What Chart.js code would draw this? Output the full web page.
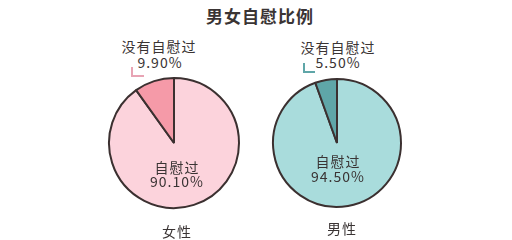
<!DOCTYPE html>
<html>
<head>
<meta charset="utf-8">
<script src="https://cdn.jsdelivr.net/npm/chart.js@4"></script>
<style>
    html, body { margin: 0; padding: 0; background: #fff; }
    #wrap { position: relative; width: 512px; height: 240px; overflow: hidden;
            font-family: "Noto Sans CJK SC", sans-serif; color: #3a3434; }
    .txt { position: absolute; transform: translate(-50%, -50%); white-space: nowrap; font-size: 14px; line-height: 1; letter-spacing: 1px; }
    .title { font-size: 17px; font-weight: bold; letter-spacing: 1px; }
    canvas { position: absolute; }
    .mark { position: absolute; border-left: 2px solid; border-bottom: 2px solid; }
</style>
</head>
<body>
<div id="wrap">
    <div class="txt title" style="left:260px; top:15px;">男女自慰比例</div>
    <canvas id="femaleChart" width="140" height="140" style="left:104px; top:73px;"></canvas>
    <canvas id="maleChart" width="140" height="140" style="left:267px; top:73px;"></canvas>
</div>
<script>
/* ========================================
   Data
   ======================================== */
const groups = ['女性', '男性'];
const sliceLabels = ['自慰过', '没有自慰过'];
const femaleValues = [90.1, 9.9];
const maleValues = [94.5, 5.5];

/* ========================================
   Layout / styles
   ======================================== */
const outline = '#3b3030';
const pies = [
    { id: 'femaleChart', values: femaleValues, colors: ['#fcd3dc', '#f59aa8'], mark: '#e8a4b4',
      pad: 4, top: [159, 46, 160, 62], inner: [177, 167, 181], bottom: [177, 231],
      markPos: [131, 67, 11, 8] },
    { id: 'maleChart', values: maleValues, colors: ['#a9dcdc', '#5fa6a8'], mark: '#5fa6a8',
      pad: 5, top: [338, 47, 338, 62], inner: [338, 161, 176], bottom: [342, 228],
      markPos: [303, 63, 10, 8] }
];

const wrap = document.getElementById('wrap');

function addText(text, x, y) {
    const d = document.createElement('div');
    d.className = 'txt';
    d.style.left = x + 'px';
    d.style.top = y + 'px';
    d.textContent = text;
    wrap.appendChild(d);
}

function pct(v) {
    return v.toFixed(2) + '%';
}

pies.forEach(function (p, i) {
    new Chart(document.getElementById(p.id).getContext('2d'), {
        type: 'pie',
        data: {
            labels: sliceLabels,
            datasets: [{
                data: p.values,
                backgroundColor: p.colors,
                borderColor: outline,
                borderWidth: 2
            }]
        },
        options: {
            responsive: false,
            animation: false,
            layout: { padding: p.pad },
            plugins: { legend: { display: false }, tooltip: { enabled: false } }
        }
    });

    // labels
    addText(sliceLabels[1], p.top[0], p.top[1]);
    addText(pct(p.values[1]), p.top[2], p.top[3]);
    addText(sliceLabels[0], p.inner[0], p.inner[1]);
    addText(pct(p.values[0]), p.inner[0], p.inner[2]);
    addText(groups[i], p.bottom[0], p.bottom[1]);

    // small corner mark
    const m = document.createElement('div');
    m.className = 'mark';
    m.style.left = p.markPos[0] + 'px';
    m.style.top = p.markPos[1] + 'px';
    m.style.width = p.markPos[2] + 'px';
    m.style.height = p.markPos[3] + 'px';
    m.style.borderColor = p.mark;
    wrap.appendChild(m);
});
</script>
</body>
</html>
